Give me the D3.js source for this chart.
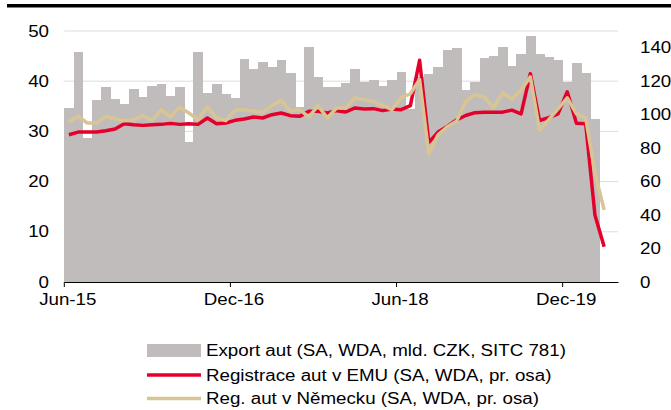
<!DOCTYPE html>
<html>
<head>
<meta charset="utf-8">
<script src="https://cdn.jsdelivr.net/npm/d3@7"></script>
<style>
  body { margin: 0; background: #fff; }
  svg { display: block; font-family: "Liberation Sans", Arial, sans-serif; }
</style>
</head>
<body>
<div id="chart"></div>
<script>
// monthly categories Jun-15 .. May-20 (60 slots)
const months = d3.timeMonths(new Date(2015, 5, 1), new Date(2020, 5, 1))
const fmt = d3.timeFormat("%b-%y")
const categories = months.map(fmt)
const tickLabels = ["Jun-15", "Dec-16", "Jun-18", "Dec-19"]
const leftTicks = [0, 10, 20, 30, 40, 50]
const rightTicks = [0, 20, 40, 60, 80, 100, 120, 140]

// Export aut (SA, WDA, mld. CZK) — Jun-15 .. Mar-20
const exportAut = [
  34.6, 45.8, 28.7, 36.3, 38.8, 36.4, 35.5, 38.4, 36.8, 39.1, 39.4, 37.1,
  38.9, 27.9, 45.8, 37.6, 39.4, 37.5, 36.6, 44.5, 42.4, 43.9, 42.9, 44.2,
  41.7, 34.8, 46.9, 40.8, 38.8, 38.9, 39.7, 42.4, 39.9, 40.2, 39.1, 40.2,
  41.8, 34.5, 40.8, 41.4, 42.9, 46.3, 46.7, 38.2, 39.9, 44.6, 45.1, 46.8,
  43.0, 45.4, 49.1, 45.4, 44.8, 44.2, 39.8, 43.6, 41.7, 32.4
]

// Registrace aut v EMU (right axis) — Jun-15 .. Apr-20
const regEmu = [
  88.0, 89.6, 89.6, 89.6, 90.4, 91.4, 94.6, 94.0, 93.6, 94.0, 94.2, 94.8,
  94.2, 94.6, 94.2, 98.0, 94.6, 95.0, 96.6, 97.4, 98.6, 98.0, 100.0, 101.0,
  99.4, 99.0, 102.0, 102.0, 101.0, 102.4, 101.6, 104.0, 103.4, 103.6, 102.4, 103.4,
  103.0, 105.4, 132.5, 83.4, 89.6, 93.0, 96.8, 99.5, 101.2, 101.5, 101.5, 101.5,
  102.7, 100.5, 124.5, 96.5, 98.2, 100.5, 113.7, 94.8, 94.5, 40.1, 21.1
]

// Reg. aut v Německu (right axis) — Jun-15 .. Apr-20
const regDe = [
  95.6, 99.0, 95.0, 95.0, 99.0, 97.6, 96.4, 97.0, 99.4, 96.6, 103.0, 98.6,
  104.4, 101.0, 97.0, 104.6, 98.0, 96.4, 102.6, 103.0, 102.0, 101.4, 105.4, 108.6,
  102.0, 103.0, 98.6, 105.4, 98.0, 104.0, 104.0, 110.0, 109.0, 107.8, 105.5, 103.0,
  110.2, 112.5, 121.0, 76.5, 88.0, 92.8, 96.0, 108.0, 112.0, 110.6, 104.0, 113.0,
  109.4, 114.6, 122.6, 90.5, 97.0, 103.5, 110.0, 100.5, 98.0, 65.1, 43.1
]

const legendItems = [
  "Export aut (SA, WDA, mld. CZK, SITC 781)",
  "Registrace aut v EMU (SA, WDA, pr. osa)",
  "Reg. aut v Německu (SA, WDA, pr. osa)"
]

const width = 671
const height = 410
const colBar = "#c0bcbc"
const colRed = "#e4002b"
const colTan = "#d8c594"
const stretch = 1.17 // the source picture is a bit wider than tall

const svg = d3.select("#chart")
    .append("svg")
    .attr("width", width)
    .attr("height", height)

// top black rule
svg.append("rect")
    .attr("x", 7).attr("y", 4)
    .attr("width", width - 7).attr("height", 3.5)
    .attr("fill", "#000")

const x = d3.scaleBand()
    .domain(categories)
    .range([64.3, 618])
    .padding(0)

const yLeft = d3.scaleLinear().domain([0, 50]).range([282, 31])
const yRight = d3.scaleLinear().domain([0, 150]).range([282, 31])

// gridlines
svg.append("g")
    .selectAll("line")
    .data(leftTicks.filter(d => d > 0))
    .join("line")
    .attr("x1", 64.3).attr("x2", 618)
    .attr("y1", d => yLeft(d)).attr("y2", d => yLeft(d))
    .attr("stroke", "#dcdcdc")
    .attr("stroke-width", 1)

// bars
svg.append("g")
    .attr("shape-rendering", "crispEdges")
    .selectAll("rect")
    .data(exportAut)
    .join("rect")
    .attr("x", (d, i) => x(categories[i]))
    .attr("width", x.bandwidth() + 0.6)
    .attr("y", d => yLeft(d))
    .attr("height", d => yLeft(0) - yLeft(d))
    .attr("fill", colBar)

const line = d3.line()
    .x((d, i) => x(categories[i]) + x.bandwidth() / 2)
    .y(d => yRight(d))

svg.append("path")
    .datum(regEmu)
    .attr("d", line)
    .attr("fill", "none")
    .attr("stroke", colRed)
    .attr("stroke-width", 3.5)
    .attr("stroke-linejoin", "round")

svg.append("path")
    .datum(regDe)
    .attr("d", line)
    .attr("fill", "none")
    .attr("stroke", colTan)
    .attr("stroke-width", 3.5)
    .attr("stroke-linejoin", "round")

// x axis
const xAxis = d3.axisBottom(x)
    .tickValues(tickLabels)
    .tickSize(5)
    .tickSizeOuter(0)

const gx = svg.append("g")
    .attr("transform", "translate(0,282)")
    .call(xAxis)
gx.select(".domain").attr("stroke", "#000")
gx.selectAll(".tick line").attr("stroke", "#000")
    .attr("transform", `translate(${-x.bandwidth() / 2},0)`)
gx.selectAll(".tick text")
    .attr("transform", `translate(${-x.bandwidth() / 2 + 3.5},0)`)
    .attr("y", 12)

// left axis labels
const gl = svg.append("g")
    .attr("transform", "translate(64,0)")
    .call(d3.axisLeft(yLeft).tickValues(leftTicks).tickSize(0).tickPadding(15))
gl.select(".domain").remove()

// right axis labels
const gr = svg.append("g")
    .attr("transform", "translate(618,0)")
    .call(d3.axisRight(yRight).tickValues(rightTicks).tickSize(0).tickPadding(22))
gr.select(".domain").remove()

svg.selectAll(".tick text")
    .attr("font-size", 16)
    .attr("fill", "#000")
    .attr("font-family", "Liberation Sans, Arial, sans-serif")

// legend
const legend = svg.append("g").attr("transform", "translate(147,0)")
const rowY = [350.5, 375, 398.5]

legend.append("rect")
    .attr("x", 0).attr("y", rowY[0] - 6.5)
    .attr("width", 54).attr("height", 13)
    .attr("fill", colBar)

legend.append("line")
    .attr("x1", 0).attr("x2", 54)
    .attr("y1", rowY[1]).attr("y2", rowY[1])
    .attr("stroke", colRed).attr("stroke-width", 3.5)

legend.append("line")
    .attr("x1", 0).attr("x2", 54)
    .attr("y1", rowY[2]).attr("y2", rowY[2])
    .attr("stroke", colTan).attr("stroke-width", 3.5)

legend.selectAll("text")
    .data(legendItems)
    .join("text")
    .attr("x", 59)
    .attr("y", (d, i) => rowY[i])
    .attr("dy", "0.35em")
    .attr("font-size", 16)
    .attr("fill", "#000")
    .text(d => d)

// widen the glyphs like in the source
svg.selectAll("text").each(function() {
  const w = this.getComputedTextLength()
  d3.select(this)
      .attr("textLength", w * stretch)
      .attr("lengthAdjust", "spacingAndGlyphs")
})
</script>
</body>
</html>
